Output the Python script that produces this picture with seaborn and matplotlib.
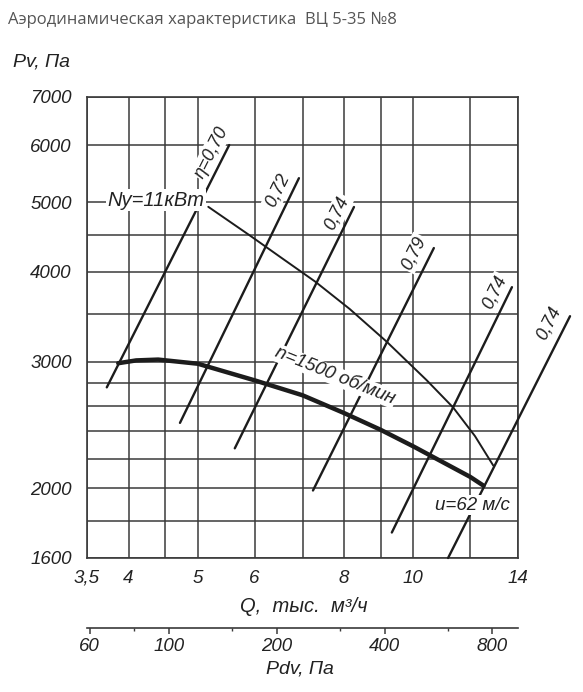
import numpy as np
import pandas as pd
import matplotlib
matplotlib.use("Agg")
import matplotlib.pyplot as plt
import seaborn as sns
from matplotlib.ticker import FixedLocator, FixedFormatter, NullFormatter

# ---------------- data ----------------
title = "Аэродинамическая характеристика  ВЦ 5-35 №8"

# pressure curve at n = 1500 rpm
q_main = [3.87, 4.10, 4.40, 5.00, 6.00, 7.00, 8.00, 9.00, 10.00, 12.00, 12.53]
p_main = [2985, 3012, 3020, 2980, 2826, 2694, 2545, 2412, 2287, 2075, 2017]

# shaft power curve Ny = 11 kW
q_power = [5.17, 5.91, 6.51, 7.29, 8.15, 9.18, 10.44, 11.37, 12.19, 12.93]
p_power = [4925, 4493, 4197, 3877, 3550, 3197, 2826, 2589, 2364, 2151]

# efficiency lines (straight in log-log)
eff_labels = ["η=0,70", "0,72", "0,74", "0,79", "0,74", "0,74"]
eff_q_start = [3.73, 4.72, 5.63, 7.24, 9.33, 11.18]
eff_p_start = [2763, 2466, 2273, 1986, 1736, 1600]
eff_q_end = [5.53, 6.92, 8.26, 10.68, 13.73, 16.55]
eff_p_end = [6002, 5398, 4922, 4316, 3808, 3470]
eff_label_q = [5.22, 6.47, 7.82, 10.01, 13.00, 15.46]
eff_label_p = [5870, 5197, 4829, 4247, 3749, 3395]

# axis ticks / grid
q_ticks = [3.5, 4, 5, 6, 8, 10, 14]
q_tick_labels = ["3,5", "4", "5", "6", "8", "10", "14"]
q_grid = [4.5, 7, 9, 12]
p_ticks = [1600, 2000, 3000, 4000, 5000, 6000, 7000]
p_tick_labels = ["1600", "2000", "3000", "4000", "5000", "6000", "7000"]
p_grid = [1800, 2200, 2400, 2600, 2800, 3500, 4500]
pdv_ticks = [60, 100, 200, 400, 800]
pdv_tick_labels = ["60", "100", "200", "400", "800"]
pdv_minor = [80, 150, 300, 600]
pdv_coef = 4.815  # Pdv = coef * Q^2

# annotations
ny_text, ny_q, ny_p = "Ny=11кВт", 4.37, 5030
n_text, n_q, n_p = "n=1500 об/мин", 7.78, 2864
u_text, u_q, u_p = "u=62 м/с", 12.08, 1895

# ---------------- style ----------------
sns.set_theme(style="white")
plt.rcParams["font.family"] = ["Liberation Sans", "DejaVu Sans"]
INK = "#1c1c1c"
GRID = "#3a3a3a"

fig = plt.figure(figsize=(5.83, 6.92), dpi=100)
W, H = 583, 692
ax = fig.add_axes([87 / W, 1 - 558 / H, 431 / W, 461 / H])
ax.set_xscale("log")
ax.set_yscale("log")
ax.set_xlim(3.5, 14)
ax.set_ylim(1600, 7000)

ax.xaxis.set_major_locator(FixedLocator(q_ticks))
ax.xaxis.set_major_formatter(FixedFormatter(q_tick_labels))
ax.xaxis.set_minor_locator(FixedLocator(q_grid))
ax.xaxis.set_minor_formatter(NullFormatter())
ax.yaxis.set_major_locator(FixedLocator(p_ticks))
ax.yaxis.set_major_formatter(FixedFormatter(p_tick_labels))
ax.yaxis.set_minor_locator(FixedLocator(p_grid))
ax.yaxis.set_minor_formatter(NullFormatter())
ax.grid(True, which="both", color=GRID, lw=1.1)
ax.set_axisbelow(True)
ax.tick_params(which="minor", length=0)
ax.tick_params(axis="x", which="major", direction="out", length=4.5, width=1.1,
               color=GRID, pad=4, labelsize=13.5, labelcolor="#222")
ax.tick_params(axis="y", which="major", direction="out", length=5, width=1.1,
               color=GRID, pad=6, labelsize=13.5, labelcolor="#222")
for lab in ax.get_xticklabels() + ax.get_yticklabels():
    lab.set_fontstyle("italic")
for s in ax.spines.values():
    s.set_visible(True)
    s.set_color(GRID)
    s.set_linewidth(1.2)

# curves
sns.lineplot(x=q_main, y=p_main, ax=ax, color=INK, lw=3.2, sort=False,
             estimator=None, zorder=4)
sns.lineplot(x=q_power, y=p_power, ax=ax, color=INK, lw=1.4, sort=False,
             estimator=None, zorder=3)

for i in range(len(eff_labels)):
    sns.lineplot(x=[eff_q_start[i], eff_q_end[i]], y=[eff_p_start[i], eff_p_end[i]],
                 ax=ax, color=INK, lw=1.7, sort=False, estimator=None, zorder=3)
    ax.lines[-1].set_clip_on(False)
    a = ax.transData.transform((eff_q_start[i], eff_p_start[i]))
    b = ax.transData.transform((eff_q_end[i], eff_p_end[i]))
    ang = np.degrees(np.arctan2(b[1] - a[1], b[0] - a[0]))
    ax.text(eff_label_q[i], eff_label_p[i], eff_labels[i], rotation=ang,
            rotation_mode="anchor", ha="center", va="center", fontsize=13,
            fontstyle="italic", color="#222", zorder=6, clip_on=False,
            bbox=dict(fc="white", ec="none", pad=1.0))

ax.text(ny_q, ny_p, ny_text, ha="center", va="center", fontsize=14.5,
        fontstyle="italic", color="#222", zorder=6,
        bbox=dict(fc="white", ec="none", pad=1.0))
ax.text(n_q, n_p, n_text, ha="center", va="center", rotation=-22,
        rotation_mode="anchor", fontsize=13.5, fontstyle="italic", color="#222",
        zorder=6, bbox=dict(fc="white", ec="none", pad=0.5))
ax.text(u_q, u_p, u_text, ha="center", va="center", fontsize=13.5,
        fontstyle="italic", color="#222", zorder=6,
        bbox=dict(fc="white", ec="none", pad=1.0))

# secondary Pdv axis
sec = ax.secondary_xaxis((558 - 628) / 461,
                         functions=(lambda q: pdv_coef * np.asarray(q) ** 2,
                                    lambda p: np.sqrt(np.abs(np.asarray(p)) / pdv_coef)))
sec.xaxis.set_major_locator(FixedLocator(pdv_ticks))
sec.xaxis.set_major_formatter(FixedFormatter(pdv_tick_labels))
sec.xaxis.set_minor_locator(FixedLocator(pdv_minor))
sec.xaxis.set_minor_formatter(NullFormatter())
sec.tick_params(which="major", direction="out", length=4, width=1.1, color=GRID,
                pad=3, labelsize=13.5, labelcolor="#222")
sec.tick_params(which="minor", direction="out", length=2.5, width=1.0, color=GRID)
for lab in sec.get_xticklabels():
    lab.set_fontstyle("italic")
sec.spines["bottom"].set_color(GRID)
sec.spines["bottom"].set_linewidth(1.2)

# texts
fig.text(8 / W, 1 - 20 / H, title, ha="left", va="center", fontsize=12,
         color="#555555", family=["Open Sans", "DejaVu Sans"])
fig.text(13 / W, 1 - 62 / H, "Pv, Па", ha="left", va="center", fontsize=14,
         fontstyle="italic", color="#222")
fig.text(304 / W, 1 - 606 / H, "Q,  тыс.  м³/ч", ha="center", va="center",
         fontsize=14.5, fontstyle="italic", color="#222")
fig.text(300 / W, 1 - 669 / H, "Pdv, Па", ha="center", va="center",
         fontsize=14, fontstyle="italic", color="#222")

fig.savefig("out.png", dpi=100)
